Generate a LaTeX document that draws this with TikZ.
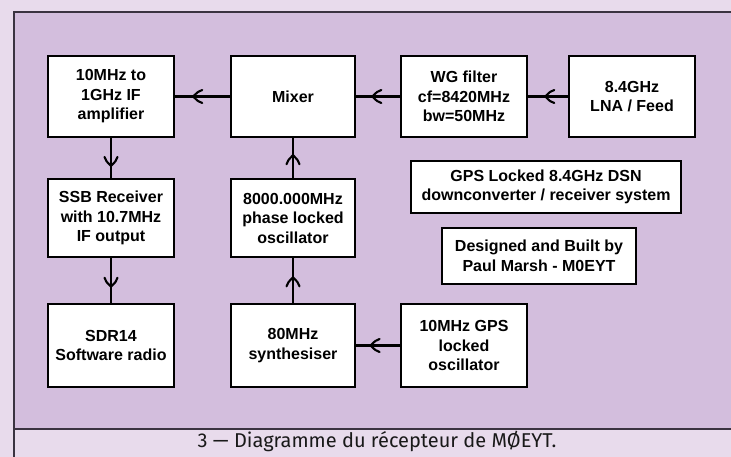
\documentclass[tikz,border=0pt]{standalone}
\usepackage{fontspec}
\setmainfont{Liberation Sans}
\newfontfamily\capfont{Fira Sans}
\usetikzlibrary{decorations.markings}
\definecolor{outerbg}{HTML}{E8DBEC}
\definecolor{panelbg}{HTML}{D3BEDD}
\definecolor{framec}{HTML}{3A3340}
\tikzset{
  blk/.style={draw=black, line width=2.4pt, fill=white, align=center,
    font=\bfseries\fontsize{16}{19.5}\selectfont, inner sep=0pt},
  conn/.style={line width=2.8pt, postaction={decorate}, decoration={markings,
    mark=at position #1 with {\draw[line width=2.1pt, line cap=round]
      (-9pt,6.5pt) .. controls (-5pt,5pt) .. (0pt,0pt) .. controls (-5pt,-5pt) .. (-9pt,-6.5pt);}}},
  conn/.default=0.63
}
\begin{document}
\begin{tikzpicture}[x=1pt,y=-1pt]
\useasboundingbox (0,0) rectangle (731,457);
\fill[outerbg] (0,0) rectangle (731,457);
\fill[panelbg] (14,12) rectangle (731,429);
\draw[framec, line width=1.3pt] (731,12) -- (14,12) -- (14,457);
\draw[framec, line width=1.3pt] (14,429) -- (731,429);
\node[font=\capfont\fontsize{20}{22}\selectfont, text=black!90, anchor=base] (cap) at (377,447) {3 — Diagramme du récepteur de MØEYT.};

\node[blk, minimum width=126pt, minimum height=81pt] (ifamp) at (111,96.5) {10MHz to\\1GHz IF\\amplifier};
\node[blk, minimum width=124pt, minimum height=81pt] (mixer) at (293,96.5) {Mixer};
\node[blk, minimum width=126pt, minimum height=81pt] (wg) at (464,96.5) {WG filter\\cf=8420MHz\\bw=50MHz};
\node[blk, minimum width=126pt, minimum height=81pt] (lna) at (632,96.5) {8.4GHz\\LNA / Feed};
\node[blk, minimum width=126pt, minimum height=78pt] (ssb) at (111,218) {SSB Receiver\\with 10.7MHz\\IF output};
\node[blk, minimum width=124pt, minimum height=78pt] (plo) at (293,218) {8000.000MHz\\phase locked\\oscillator};
\node[blk, minimum width=126pt, minimum height=83pt] (sdr) at (111,345.5) {SDR14\\Software radio};
\node[blk, minimum width=124pt, minimum height=83pt] (synth) at (293,345.5) {80MHz\\synthesiser};
\node[blk, minimum width=126pt, minimum height=83pt] (gpsosc) at (464,345.5) {10MHz GPS\\locked\\oscillator};
\node[blk, minimum width=270pt, minimum height=52pt] (title) at (546,187) {GPS Locked 8.4GHz DSN\\downconverter / receiver system};
\node[blk, minimum width=194pt, minimum height=56pt] (designed) at (539,256) {Designed and Built by\\Paul Marsh - M0EYT};

\draw[conn=0.57] (lna) -- (wg);
\draw[conn=0.63] (wg) -- (mixer);
\draw[conn=0.67] (mixer) -- (ifamp);
\draw[conn=0.7] (ifamp) -- (ssb);
\draw[conn=0.64] (ssb) -- (sdr);
\draw[conn=0.57] (plo) -- (mixer);
\draw[conn=0.57] (synth) -- (plo);
\draw[conn=0.67] (gpsosc) -- (synth);
\end{tikzpicture}
\end{document}
